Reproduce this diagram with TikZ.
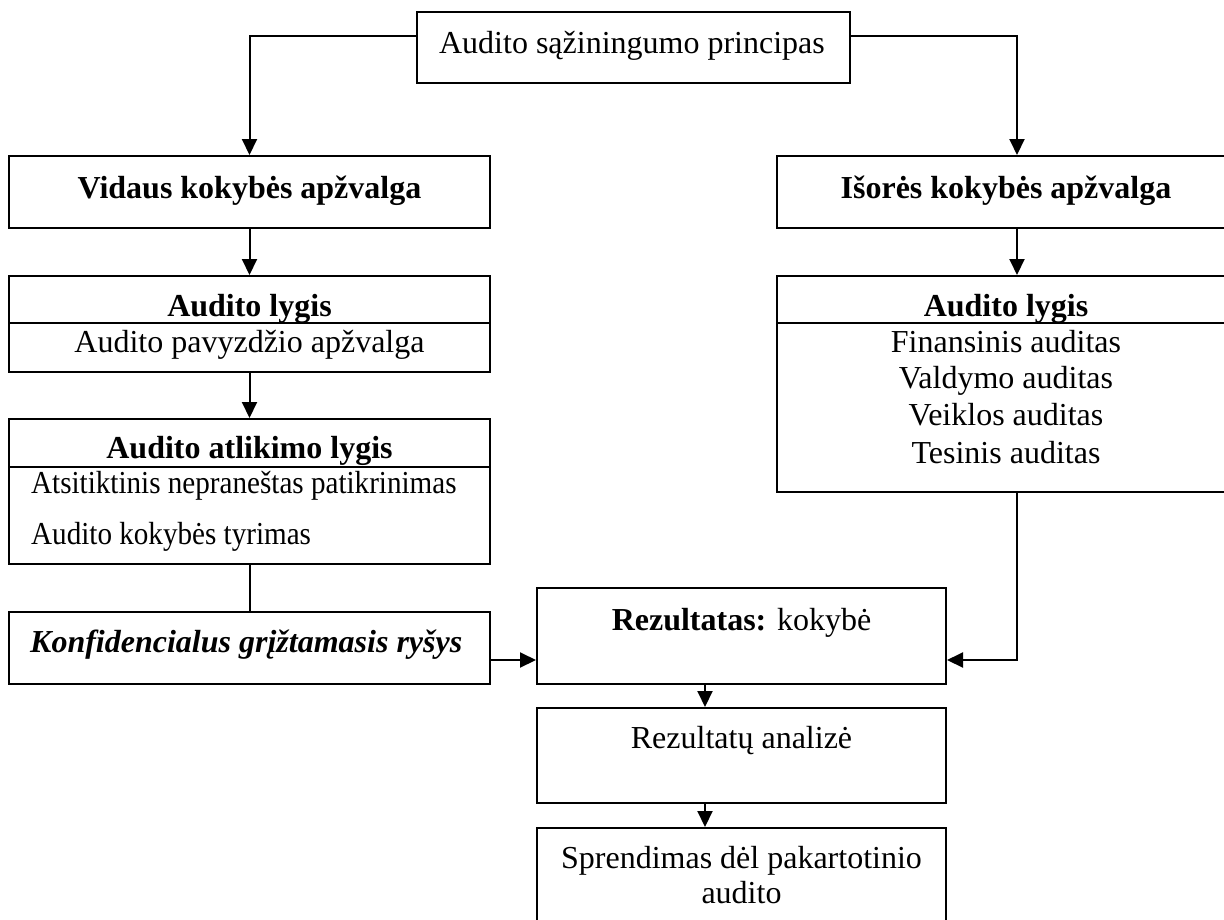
\documentclass[tikz,border=0pt]{standalone}
\usepackage{fontspec}
\setmainfont{Liberation Serif}
\newfontfamily\condensedserif[FakeStretch=0.91]{Liberation Serif}
\usetikzlibrary{arrows.meta}
\begin{document}
\begin{tikzpicture}[x=1pt,y=-1pt,
  box/.style={draw, line width=2pt, inner sep=0pt, minimum width=#1},
  box/.default=481pt,
  txt/.style={inner sep=0pt, anchor=base, font=\fontsize{32}{37}\selectfont},
  ltxt/.style={txt, anchor=base west},
  stxt/.style={inner sep=0pt, anchor=base west, font=\condensedserif\fontsize{32}{37}\selectfont},
  arr/.style={line width=2pt, -{Triangle[length=16pt,width=15pt]}},
  con/.style={line width=2pt}]
\useasboundingbox (0,0) rectangle (1224,919);
\clip (0,0) rectangle (1224,919);
\fill[white] (0,0) rectangle (1224,919);

% boxes
\node[box=433pt, minimum height=71pt] (top) at (633.5,47.5) {};
\node[box, minimum height=72pt] (vid) at (249.5,192) {};
\node[box=459pt, minimum height=72pt] (iso) at (1006.5,192) {};
\node[box, minimum height=47pt] (lyg1h) at (249.5,299.5) {};
\node[box, minimum height=49pt] (lyg1b) at (249.5,347.5) {};
\node[box, minimum height=48pt] (atl1h) at (249.5,443) {};
\node[box, minimum height=97pt] (atl1b) at (249.5,515.5) {};
\node[box, minimum height=72pt] (konf) at (249.5,648) {};
\node[box=459pt, minimum height=47pt] (lyg2h) at (1006.5,299.5) {};
\node[box=459pt, minimum height=169pt] (lyg2b) at (1006.5,407.5) {};
\node[box=409pt, minimum height=96pt] (rez) at (741.5,636) {};
\node[box=409pt, minimum height=95pt] (ana) at (741.5,755.5) {};
\node[box=409pt, minimum height=102pt] (spr) at (741.5,879) {};

% texts
\node[txt] (ttop) at (632,53) {Audito sąžiningumo principas};
\node[txt] (tvid) at (249.5,198) {\textbf{Vidaus kokybės apžvalga}};
\node[txt] (tiso) at (1006,198) {\textbf{Išorės kokybės apžvalga}};
\node[txt] (tl1h) at (249.5,316) {\textbf{Audito lygis}};
\node[txt] (tl1b) at (249.5,352) {Audito pavyzdžio apžvalga};
\node[txt] (ta1h) at (249.5,458) {\textbf{Audito atlikimo lygis}};
\node[stxt] (ta1a) at (31,493) {Atsitiktinis nepraneštas patikrinimas};
\node[stxt] (ta1b) at (31,544) {Audito kokybės tyrimas};
\node[ltxt] (tkonf) at (30,652) {\textbf{\textit{Konfidencialus grįžtamasis ryšys}}};
\node[txt] (tl2h) at (1006,316) {\textbf{Audito lygis}};
\node[txt] (tl2a) at (1006,352) {Finansinis auditas};
\node[txt] (tl2b) at (1006,388) {Valdymo auditas};
\node[txt] (tl2c) at (1006,425) {Veiklos auditas};
\node[txt] (tl2d) at (1006,463) {Tesinis auditas};
\node[txt] (trez) at (741.5,630) {\textbf{Rezultatas:} kokybė};
\node[txt] (tana) at (741.5,748) {Rezultatų analizė};
\node[txt] (tspra) at (741.5,868) {Sprendimas dėl pakartotinio};
\node[txt] (tsprb) at (741.5,903) {audito};

% helper coordinates
\coordinate (rx) at (1017,0);
\coordinate (mx) at (705,0);
\coordinate (ay) at (0,660);

% connectors
\draw[arr] ([yshift=11.5pt]top.west) -| (vid.north);
\draw[arr] ([yshift=11.5pt]top.east) -| (rx |- iso.north);
\draw[arr] (vid.south) -- (lyg1h.north);
\draw[arr] (iso.south -| rx) -- (lyg2h.north -| rx);
\draw[arr] (lyg1b.south) -- (atl1h.north);
\draw[con] (atl1b.south) -- (konf.north);
\draw[arr] (konf.east |- ay) -- (rez.west |- ay);
\draw[arr] (lyg2b.south -| rx) |- (rez.east |- ay);
\draw[arr] (rez.south -| mx) -- (ana.north -| mx);
\draw[arr] (ana.south -| mx) -- (spr.north -| mx);
\end{tikzpicture}
\end{document}
